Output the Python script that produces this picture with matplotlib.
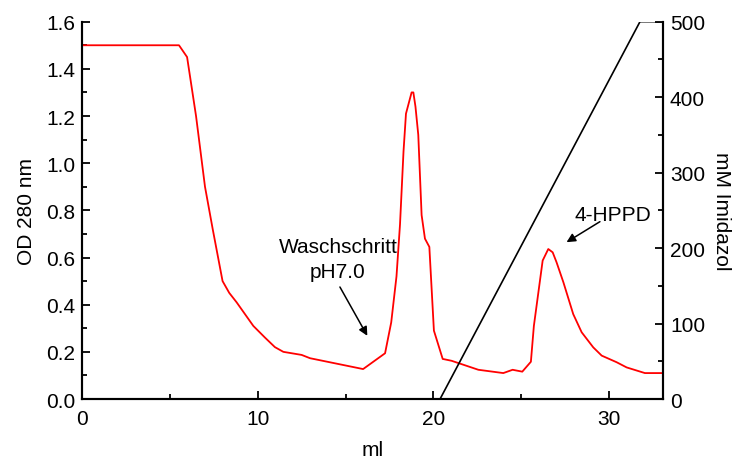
import numpy as np
import matplotlib
matplotlib.use("Agg")
import matplotlib.pyplot as plt

plt.rcParams['font.family'] = ['Liberation Sans', 'DejaVu Sans']

# OD 280 nm trace (red)
ml_od = [0.0, 5.52, 5.98, 6.49, 7.0, 7.44, 8.0, 8.38, 8.8, 9.75, 10.42, 10.98,
         11.46, 12.5, 12.98, 16.0, 17.25, 17.6, 17.9, 18.1, 18.3, 18.44, 18.76,
         18.86, 18.98, 19.14, 19.33, 19.52, 19.77, 20.03, 20.53, 21.04, 22.56,
         23.98, 24.51, 25.06, 25.55, 25.72, 26.22, 26.54, 26.79, 27.01, 27.4,
         27.96, 28.44, 29.1, 29.58, 30.43, 31.0, 32.04, 33.1]
od = [1.50, 1.50, 1.45, 1.20, 0.90, 0.72, 0.50, 0.45, 0.41, 0.31, 0.26, 0.22,
      0.20, 0.187, 0.173, 0.127, 0.194, 0.325, 0.52, 0.74, 1.05, 1.21, 1.30,
      1.30, 1.24, 1.12, 0.78, 0.68, 0.645, 0.29, 0.17, 0.162, 0.124,
      0.110, 0.124, 0.116, 0.158, 0.31, 0.587, 0.636, 0.622, 0.58, 0.495,
      0.36, 0.283, 0.219, 0.184, 0.156, 0.134, 0.110, 0.110]

# imidazole gradient (black)
ml_imi = [20.38, 31.76, 33.1]
imi = [0, 500, 500]

fig = plt.figure(figsize=(7.33, 4.6), dpi=100)
ax = fig.add_axes([0.1119, 0.1304, 0.7926, 0.8203])
ax2 = ax.twinx()

ax.plot(ml_od, od, color='red', lw=1.3, zorder=3)
ax2.plot(ml_imi, imi, color='black', lw=1.2)

ax.set_xlim(0, 33.07)
ax.set_ylim(0, 1.6)
ax2.set_ylim(0, 500)

ax.set_xticks([0, 10, 20, 30])
ax.set_xticks([5, 15, 25], minor=True)
ax.set_yticks(np.arange(0, 1.61, 0.2))
ax.set_yticks(np.arange(0.1, 1.6, 0.2), minor=True)
ax.set_yticklabels([f"{v:.1f}" for v in np.arange(0, 1.61, 0.2)])
ax2.set_yticks([0, 100, 200, 300, 400, 500])
ax2.set_yticks([50, 150, 250, 350, 450], minor=True)

for a in (ax, ax2):
    a.spines['top'].set_visible(False)
    for s in a.spines.values():
        s.set_linewidth(1.5)
    a.tick_params(which='both', direction='in', width=1.3, labelsize=15)
    a.tick_params(which='major', length=6)
    a.tick_params(which='minor', length=3.5)
ax.tick_params(axis='x', pad=7)
ax.tick_params(axis='y', pad=5)
ax2.tick_params(axis='y', pad=5)

ax.set_xlabel('ml', fontsize=15, labelpad=9)
ax.set_ylabel('OD 280 nm', fontsize=15, labelpad=7)
ax2.set_ylabel('mM Imidazol', fontsize=15, rotation=270, labelpad=19)

ax.text(14.57, 0.595, 'Waschschritt\npH7.0', ha='center', va='center',
        fontsize=15, linespacing=1.4)
ax.annotate('', xy=(16.24, 0.268), xytext=(14.68, 0.475),
            arrowprops=dict(arrowstyle='-|>', color='black', lw=1.1,
                            mutation_scale=13, shrinkA=0, shrinkB=0))
ax.text(30.24, 0.782, '4-HPPD', ha='center', va='center', fontsize=15)
ax.annotate('', xy=(27.58, 0.665), xytext=(29.48, 0.752),
            arrowprops=dict(arrowstyle='-|>', color='black', lw=1.1,
                            mutation_scale=13, shrinkA=0, shrinkB=0))

fig.savefig('out.png', dpi=100)
